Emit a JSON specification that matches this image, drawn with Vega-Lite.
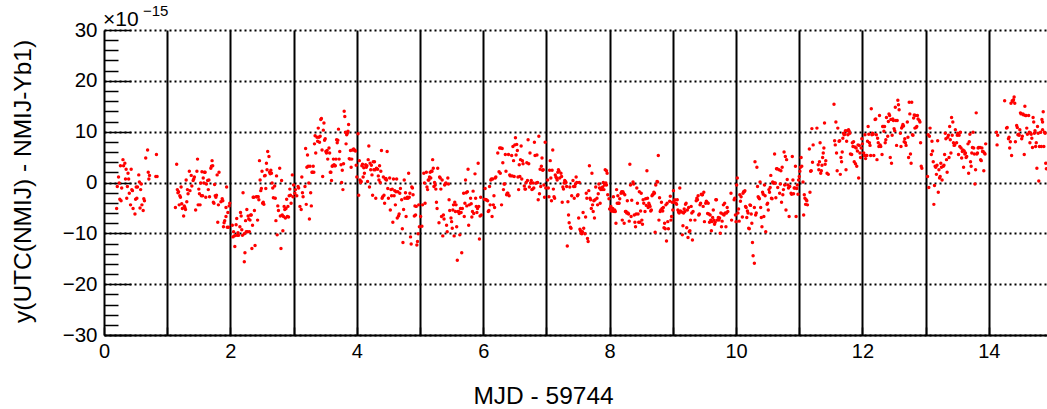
{
"$schema":"https://vega.github.io/schema/vega-lite/v6.json",
"width":943,"height":305,
"autosize":{"type":"none"},
"padding":{"left":104,"top":30,"right":0,"bottom":74},
"background":"white",
"config":{"view":{"stroke":null},"font":"Liberation Sans"},
"layer":[
{"data":{"values":[
{"x":0.20,"y":-5.1},{"x":0.21,"y":-0.8},{"x":0.23,"y":1.1},{"x":0.24,"y":-0.1},{"x":0.25,"y":-3.3},{"x":0.26,"y":3.3},{"x":0.27,"y":-3.6},{"x":0.28,"y":-1.1},{"x":0.30,"y":4.5},{"x":0.31,"y":3.3},{"x":0.33,"y":3.8},{"x":0.34,"y":0.7},{"x":0.35,"y":2.6},{"x":0.36,"y":-3.1},{"x":0.37,"y":-0.8},{"x":0.38,"y":1.8},{"x":0.39,"y":0.7},{"x":0.40,"y":-2.1},{"x":0.42,"y":-4.4},{"x":0.43,"y":2.6},{"x":0.44,"y":-1.4},{"x":0.45,"y":-1.6},{"x":0.46,"y":-5.1},{"x":0.49,"y":-6.2},{"x":0.50,"y":-3.3},{"x":0.51,"y":-0.9},{"x":0.52,"y":-3.1},{"x":0.53,"y":-0.9},{"x":0.55,"y":1.5},{"x":0.56,"y":0.1},{"x":0.57,"y":-5.0},{"x":0.58,"y":-1.4},{"x":0.59,"y":-0.3},{"x":0.60,"y":-4.4},{"x":0.62,"y":-5.5},{"x":0.63,"y":-3.2},{"x":0.64,"y":-3.6},{"x":0.66,"y":4.8},{"x":0.69,"y":6.4},{"x":0.70,"y":2.0},{"x":0.71,"y":0.7},{"x":0.72,"y":1.4},{"x":0.82,"y":1.2},{"x":0.83,"y":5.5},{"x":0.84,"y":1.2},
{"x":1.13,"y":-4.9},{"x":1.15,"y":3.6},{"x":1.16,"y":-1.4},{"x":1.17,"y":-2.0},{"x":1.18,"y":-1.8},{"x":1.19,"y":-4.4},{"x":1.20,"y":-2.6},{"x":1.21,"y":-2.9},{"x":1.22,"y":-0.9},{"x":1.23,"y":-4.2},{"x":1.24,"y":-5.1},{"x":1.26,"y":-6.6},{"x":1.27,"y":-4.6},{"x":1.28,"y":-4.9},{"x":1.29,"y":-5.3},{"x":1.30,"y":0.5},{"x":1.31,"y":-3.8},{"x":1.32,"y":-1.4},{"x":1.33,"y":-2.2},{"x":1.35,"y":2.2},{"x":1.36,"y":-1.6},{"x":1.38,"y":1.4},{"x":1.39,"y":-0.7},{"x":1.41,"y":0.4},{"x":1.42,"y":0.7},{"x":1.43,"y":1.1},{"x":1.45,"y":-5.4},{"x":1.47,"y":2.2},{"x":1.48,"y":4.6},{"x":1.49,"y":-4.4},{"x":1.50,"y":-1.3},{"x":1.51,"y":-2.2},{"x":1.52,"y":-4.4},{"x":1.53,"y":-0.1},{"x":1.54,"y":-2.6},{"x":1.55,"y":2.1},{"x":1.56,"y":-2.6},{"x":1.57,"y":0.9},{"x":1.58,"y":-0.1},{"x":1.59,"y":2.0},{"x":1.60,"y":2.0},{"x":1.61,"y":-2.9},{"x":1.62,"y":-0.3},{"x":1.64,"y":0.4},{"x":1.65,"y":-1.4},{"x":1.66,"y":0.5},{"x":1.67,"y":-2.8},{"x":1.69,"y":2.8},{"x":1.70,"y":3.2},{"x":1.71,"y":4.3},{"x":1.72,"y":3.3},{"x":1.73,"y":-3.9},{"x":1.74,"y":-4.1},{"x":1.75,"y":-0.4},{"x":1.76,"y":-2.6},{"x":1.77,"y":-2.9},{"x":1.78,"y":-2.5},{"x":1.79,"y":1.5},{"x":1.80,"y":-7.8},{"x":1.81,"y":-4.4},{"x":1.82,"y":2.0},{"x":1.85,"y":-3.8},{"x":1.87,"y":-3.2},{"x":1.88,"y":-3.6},{"x":1.89,"y":-8.7},{"x":1.90,"y":-7.9},{"x":1.91,"y":-7.5},{"x":1.93,"y":-4.9},{"x":1.93,"y":-6.7},{"x":1.94,"y":-0.9},{"x":1.95,"y":-8.8},{"x":1.96,"y":-5.9},{"x":1.97,"y":-8.8},{"x":1.98,"y":-4.6},{"x":1.99,"y":-4.1},
{"x":2.03,"y":-8.4},{"x":2.04,"y":-10.7},{"x":2.05,"y":-9.7},{"x":2.06,"y":-10.5},{"x":2.07,"y":-12.6},{"x":2.08,"y":-10.4},{"x":2.09,"y":-8.3},{"x":2.10,"y":-7.1},{"x":2.11,"y":-10.4},{"x":2.12,"y":-9.9},{"x":2.13,"y":-10.4},{"x":2.15,"y":-8.7},{"x":2.16,"y":-5.9},{"x":2.17,"y":-6.6},{"x":2.18,"y":-9.3},{"x":2.19,"y":-10.4},{"x":2.20,"y":-2.0},{"x":2.22,"y":-10.1},{"x":2.22,"y":-15.6},{"x":2.23,"y":-13.8},{"x":2.24,"y":-7.5},{"x":2.25,"y":-9.7},{"x":2.26,"y":-5.3},{"x":2.27,"y":-9.7},{"x":2.28,"y":-6.6},{"x":2.29,"y":-7.2},{"x":2.30,"y":-9.7},{"x":2.31,"y":-7.4},{"x":2.32,"y":-6.4},{"x":2.33,"y":-6.4},{"x":2.34,"y":-13.0},{"x":2.35,"y":-8.4},{"x":2.36,"y":-2.9},{"x":2.37,"y":-2.9},{"x":2.38,"y":-5.5},{"x":2.39,"y":-12.4},{"x":2.41,"y":-2.8},{"x":2.42,"y":-2.8},{"x":2.43,"y":-7.4},{"x":2.44,"y":-2.8},{"x":2.45,"y":-3.4},{"x":2.46,"y":4.3},{"x":2.47,"y":0.5},{"x":2.48,"y":-1.6},{"x":2.49,"y":-1.2},{"x":2.50,"y":2.2},{"x":2.51,"y":-4.1},{"x":2.52,"y":-3.9},{"x":2.53,"y":-4.3},{"x":2.54,"y":1.3},{"x":2.55,"y":1.4},{"x":2.56,"y":-1.2},{"x":2.57,"y":3.8},{"x":2.58,"y":2.5},{"x":2.59,"y":6.1},{"x":2.61,"y":5.1},{"x":2.62,"y":2.0},{"x":2.63,"y":1.7},{"x":2.64,"y":2.4},{"x":2.65,"y":1.8},{"x":2.66,"y":-0.1},{"x":2.67,"y":-1.1},{"x":2.68,"y":-3.0},
{"x":2.70,"y":-0.7},{"x":2.71,"y":-3.1},{"x":2.72,"y":-7.5},{"x":2.73,"y":1.3},{"x":2.74,"y":-10.3},{"x":2.75,"y":-4.6},{"x":2.76,"y":-5.5},{"x":2.78,"y":2.8},{"x":2.79,"y":-6.6},{"x":2.80,"y":-13.0},{"x":2.81,"y":0.4},{"x":2.82,"y":-6.4},{"x":2.83,"y":-9.5},{"x":2.84,"y":-6.7},{"x":2.85,"y":-4.7},{"x":2.86,"y":-5.3},{"x":2.87,"y":-7.0},{"x":2.88,"y":-5.1},{"x":2.89,"y":-3.3},{"x":2.90,"y":-6.7},{"x":2.91,"y":-4.7},{"x":2.92,"y":-6.8},{"x":2.93,"y":-2.6},{"x":2.94,"y":-1.3},{"x":2.95,"y":-2.5},{"x":2.96,"y":-4.1},{"x":2.98,"y":1.5},{"x":2.99,"y":-2.8},{"x":3.00,"y":-0.5},
{"x":3.02,"y":-2.1},{"x":3.03,"y":-1.4},{"x":3.05,"y":-2.6},{"x":3.07,"y":-0.8},{"x":3.08,"y":-1.1},{"x":3.10,"y":-4.7},{"x":3.12,"y":-5.3},{"x":3.13,"y":1.1},{"x":3.14,"y":-2.0},{"x":3.15,"y":-2.8},{"x":3.18,"y":-0.8},{"x":3.19,"y":6.7},{"x":3.20,"y":-4.3},{"x":3.21,"y":3.0},{"x":3.22,"y":5.4},{"x":3.23,"y":3.2},{"x":3.24,"y":-0.1},{"x":3.25,"y":-7.2},{"x":3.26,"y":3.2},{"x":3.27,"y":-2.0},{"x":3.28,"y":-4.6},{"x":3.29,"y":2.0},{"x":3.30,"y":2.0},{"x":3.31,"y":3.2},{"x":3.32,"y":2.0},{"x":3.33,"y":7.6},{"x":3.34,"y":9.2},{"x":3.35,"y":5.8},{"x":3.37,"y":8.9},{"x":3.38,"y":8.1},{"x":3.39,"y":10.7},{"x":3.40,"y":8.9},{"x":3.41,"y":7.9},{"x":3.42,"y":9.1},{"x":3.43,"y":12.4},{"x":3.44,"y":12.6},{"x":3.45,"y":6.4},{"x":3.46,"y":1.2},{"x":3.47,"y":10.3},{"x":3.48,"y":11.7},{"x":3.49,"y":8.3},{"x":3.50,"y":8.6},{"x":3.51,"y":6.1},{"x":3.52,"y":5.8},{"x":3.53,"y":6.3},{"x":3.54,"y":4.6},{"x":3.56,"y":6.8},{"x":3.57,"y":5.8},{"x":3.58,"y":2.0},{"x":3.59,"y":2.0},{"x":3.60,"y":0.4},{"x":3.61,"y":3.2},{"x":3.62,"y":3.3},{"x":3.63,"y":4.6},{"x":3.64,"y":3.5},{"x":3.65,"y":3.3},{"x":3.66,"y":3.3},{"x":3.67,"y":4.6},{"x":3.68,"y":8.4},{"x":3.69,"y":7.8},{"x":3.70,"y":8.3},{"x":3.71,"y":10.5},{"x":3.72,"y":4.6},{"x":3.73,"y":6.1},{"x":3.75,"y":3.5},{"x":3.76,"y":0.0},{"x":3.77,"y":2.4},{"x":3.78,"y":-1.4},{"x":3.79,"y":3.7},{"x":3.80,"y":14.0},{"x":3.81,"y":13.0},{"x":3.82,"y":9.9},{"x":3.83,"y":7.6},{"x":3.84,"y":9.4},{"x":3.85,"y":9.7},{"x":3.86,"y":10.1},{"x":3.87,"y":11.4},{"x":3.88,"y":4.7},{"x":3.89,"y":4.6},{"x":3.90,"y":6.3},{"x":3.91,"y":3.0},{"x":3.92,"y":4.6},{"x":3.93,"y":6.4},{"x":3.95,"y":6.6},{"x":3.96,"y":6.4},{"x":3.97,"y":6.3},{"x":3.98,"y":6.2},{"x":3.99,"y":3.4},{"x":4.00,"y":1.1},
{"x":4.02,"y":9.6},{"x":4.03,"y":-2.5},{"x":4.04,"y":4.3},{"x":4.05,"y":0.5},{"x":4.06,"y":0.0},{"x":4.07,"y":0.2},{"x":4.08,"y":3.3},{"x":4.09,"y":3.6},{"x":4.10,"y":1.1},{"x":4.11,"y":2.9},{"x":4.12,"y":1.8},{"x":4.14,"y":3.5},{"x":4.15,"y":3.0},{"x":4.16,"y":3.3},{"x":4.17,"y":0.2},{"x":4.18,"y":4.5},{"x":4.19,"y":7.2},{"x":4.20,"y":-0.9},{"x":4.21,"y":3.8},{"x":4.22,"y":2.5},{"x":4.23,"y":3.4},{"x":4.24,"y":1.5},{"x":4.25,"y":-2.5},{"x":4.26,"y":4.1},{"x":4.27,"y":2.5},{"x":4.28,"y":4.1},{"x":4.29,"y":2.5},{"x":4.30,"y":-3.1},{"x":4.31,"y":2.8},{"x":4.33,"y":2.6},{"x":4.34,"y":1.3},{"x":4.35,"y":0.5},{"x":4.36,"y":3.3},{"x":4.37,"y":0.0},{"x":4.38,"y":2.2},{"x":4.39,"y":6.3},{"x":4.40,"y":-3.1},{"x":4.41,"y":-2.8},{"x":4.42,"y":1.1},{"x":4.43,"y":-2.5},{"x":4.44,"y":-4.1},{"x":4.45,"y":0.7},{"x":4.46,"y":0.8},{"x":4.47,"y":0.5},{"x":4.48,"y":6.1},{"x":4.49,"y":-1.2},{"x":4.50,"y":-3.1},{"x":4.52,"y":0.9},{"x":4.53,"y":-5.4},{"x":4.54,"y":-1.4},{"x":4.55,"y":-2.6},{"x":4.56,"y":-1.3},{"x":4.57,"y":-7.8},{"x":4.58,"y":0.7},{"x":4.59,"y":-2.6},{"x":4.60,"y":-1.6},{"x":4.61,"y":-4.4},{"x":4.62,"y":-1.8},{"x":4.63,"y":0.7},{"x":4.64,"y":-7.0},{"x":4.65,"y":-1.8},{"x":4.66,"y":-6.6},{"x":4.67,"y":-6.2},{"x":4.68,"y":-2.1},{"x":4.69,"y":-1.2},{"x":4.71,"y":-3.4},{"x":4.72,"y":-9.1},{"x":4.73,"y":-11.8},{"x":4.74,"y":-5.3},{"x":4.75,"y":0.5},{"x":4.76,"y":-3.1},{"x":4.77,"y":-2.0},{"x":4.78,"y":-6.7},{"x":4.79,"y":-3.1},{"x":4.80,"y":-2.9},{"x":4.81,"y":-3.1},{"x":4.82,"y":1.8},{"x":4.83,"y":-2.9},{"x":4.84,"y":-2.1},{"x":4.85,"y":-10.7},{"x":4.86,"y":-12.1},{"x":4.87,"y":-0.9},{"x":4.88,"y":-1.1},{"x":4.89,"y":-2.4},{"x":4.91,"y":-6.6},{"x":4.92,"y":-4.6},{"x":4.93,"y":-6.4},{"x":4.94,"y":-4.7},{"x":4.95,"y":-12.3},{"x":4.96,"y":-11.6},{"x":4.97,"y":-10.1},{"x":4.98,"y":-4.4},{"x":4.99,"y":-8.7},
{"x":5.01,"y":-6.7},{"x":5.03,"y":-8.6},{"x":5.04,"y":-4.4},{"x":5.06,"y":1.8},{"x":5.07,"y":-0.1},{"x":5.08,"y":-4.1},{"x":5.10,"y":2.0},{"x":5.11,"y":-0.9},{"x":5.12,"y":-1.4},{"x":5.13,"y":0.5},{"x":5.14,"y":0.5},{"x":5.15,"y":1.1},{"x":5.16,"y":2.0},{"x":5.17,"y":0.9},{"x":5.18,"y":2.2},{"x":5.19,"y":2.2},{"x":5.20,"y":4.5},{"x":5.21,"y":2.8},{"x":5.22,"y":-0.8},{"x":5.23,"y":0.0},{"x":5.24,"y":-0.5},
{"x":5.25,"y":-1.3},{"x":5.26,"y":-3.9},{"x":5.27,"y":-5.1},{"x":5.28,"y":2.8},{"x":5.30,"y":-7.9},{"x":5.31,"y":1.1},{"x":5.32,"y":0.9},{"x":5.33,"y":-1.3},{"x":5.34,"y":-6.7},{"x":5.35,"y":0.5},{"x":5.36,"y":-10.5},{"x":5.37,"y":-6.4},{"x":5.38,"y":-7.2},{"x":5.39,"y":-0.5},{"x":5.40,"y":-0.3},{"x":5.41,"y":-0.1},{"x":5.42,"y":-8.4},{"x":5.43,"y":-9.7},{"x":5.44,"y":0.9},{"x":5.45,"y":-0.3},{"x":5.46,"y":-3.4},{"x":5.47,"y":-5.5},{"x":5.49,"y":-7.0},{"x":5.50,"y":-7.7},{"x":5.51,"y":-9.0},{"x":5.52,"y":-5.4},{"x":5.53,"y":-4.4},{"x":5.54,"y":-10.5},{"x":5.55,"y":-3.9},{"x":5.56,"y":-5.7},{"x":5.57,"y":-4.4},{"x":5.58,"y":-8.7},{"x":5.59,"y":-15.3},{"x":5.60,"y":-5.7},{"x":5.61,"y":-5.7},{"x":5.62,"y":-6.1},{"x":5.63,"y":-10.3},{"x":5.64,"y":-5.1},{"x":5.65,"y":-5.9},{"x":5.66,"y":-13.8},{"x":5.67,"y":-5.1},{"x":5.69,"y":-2.1},{"x":5.70,"y":-6.7},{"x":5.71,"y":-4.1},{"x":5.72,"y":0.5},{"x":5.73,"y":-2.0},{"x":5.74,"y":-4.6},{"x":5.75,"y":-1.8},{"x":5.76,"y":2.6},{"x":5.77,"y":-8.4},{"x":5.78,"y":-4.4},{"x":5.80,"y":-3.1},{"x":5.81,"y":-4.2},{"x":5.82,"y":-6.8},{"x":5.83,"y":-5.7},{"x":5.84,"y":-1.7},{"x":5.85,"y":-6.1},{"x":5.87,"y":1.7},{"x":5.88,"y":-3.1},{"x":5.89,"y":-4.7},{"x":5.90,"y":-5.9},{"x":5.91,"y":-5.1},{"x":5.92,"y":3.8},{"x":5.93,"y":-4.7},{"x":5.94,"y":-11.1},{"x":5.95,"y":-6.6},{"x":5.96,"y":-2.9},{"x":5.97,"y":-6.4},
{"x":6.02,"y":-3.3},{"x":6.03,"y":-1.2},{"x":6.04,"y":-3.4},{"x":6.05,"y":-3.4},{"x":6.07,"y":-3.6},{"x":6.08,"y":-5.7},{"x":6.09,"y":-5.5},{"x":6.10,"y":-0.8},{"x":6.11,"y":-4.4},{"x":6.12,"y":0.5},{"x":6.13,"y":0.7},{"x":6.14,"y":-6.7},{"x":6.15,"y":0.7},{"x":6.16,"y":-4.4},{"x":6.17,"y":-2.6},{"x":6.18,"y":-4.9},{"x":6.19,"y":0.9},{"x":6.20,"y":1.1},{"x":6.23,"y":5.8},{"x":6.25,"y":2.1},{"x":6.26,"y":6.8},{"x":6.27,"y":1.8},{"x":6.28,"y":6.8},{"x":6.29,"y":-4.4},{"x":6.30,"y":6.7},{"x":6.31,"y":3.9},{"x":6.32,"y":-1.4},{"x":6.33,"y":-0.3},{"x":6.34,"y":-0.3},{"x":6.35,"y":5.5},{"x":6.36,"y":2.2},{"x":6.37,"y":-2.4},{"x":6.38,"y":-2.1},{"x":6.39,"y":-2.1},{"x":6.40,"y":5.5},{"x":6.41,"y":-2.6},{"x":6.42,"y":1.5},{"x":6.43,"y":1.3},{"x":6.45,"y":5.3},{"x":6.46,"y":1.3},{"x":6.47,"y":7.1},{"x":6.48,"y":4.3},{"x":6.49,"y":1.2},{"x":6.50,"y":7.4},{"x":6.51,"y":8.8},{"x":6.52,"y":5.4},{"x":6.53,"y":7.5},{"x":6.54,"y":6.3},{"x":6.55,"y":1.1},{"x":6.56,"y":-1.4},{"x":6.57,"y":3.5},{"x":6.58,"y":1.2},{"x":6.59,"y":4.5},{"x":6.60,"y":7.2},{"x":6.61,"y":0.7},{"x":6.62,"y":4.3},{"x":6.63,"y":3.7},{"x":6.65,"y":-0.7},{"x":6.66,"y":-1.3},{"x":6.67,"y":-1.3},{"x":6.68,"y":0.0},{"x":6.69,"y":3.9},{"x":6.70,"y":0.4},{"x":6.71,"y":8.4},{"x":6.72,"y":3.7},{"x":6.73,"y":-0.9},{"x":6.74,"y":5.8},{"x":6.75,"y":-0.1},{"x":6.76,"y":0.4},{"x":6.77,"y":-1.4},{"x":6.78,"y":-1.3},{"x":6.79,"y":-0.1},{"x":6.80,"y":-1.1},{"x":6.81,"y":7.9},{"x":6.82,"y":5.3},{"x":6.84,"y":-0.1},{"x":6.85,"y":5.4},{"x":6.86,"y":0.0},{"x":6.87,"y":-3.4},{"x":6.88,"y":9.1},{"x":6.89,"y":-2.2},{"x":6.90,"y":2.6},{"x":6.91,"y":-0.8},{"x":6.92,"y":3.2},{"x":6.93,"y":4.8},{"x":6.94,"y":2.4},{"x":6.95,"y":2.5},{"x":6.96,"y":-0.5},{"x":6.97,"y":-2.9},{"x":6.98,"y":7.9},{"x":6.99,"y":-1.1},
{"x":7.02,"y":0.5},{"x":7.03,"y":-1.1},{"x":7.04,"y":-2.8},{"x":7.05,"y":2.4},{"x":7.06,"y":4.3},{"x":7.07,"y":0.9},{"x":7.08,"y":-3.6},{"x":7.09,"y":2.4},{"x":7.10,"y":6.4},{"x":7.11,"y":-1.3},{"x":7.12,"y":-2.8},{"x":7.13,"y":-3.1},{"x":7.14,"y":1.5},{"x":7.15,"y":1.1},{"x":7.16,"y":0.9},{"x":7.17,"y":0.5},{"x":7.18,"y":2.0},{"x":7.19,"y":2.5},{"x":7.20,"y":2.2},{"x":7.21,"y":0.9},{"x":7.23,"y":1.8},{"x":7.24,"y":1.2},{"x":7.25,"y":-3.9},{"x":7.26,"y":-0.9},{"x":7.27,"y":-1.3},{"x":7.28,"y":-0.1},{"x":7.29,"y":0.4},{"x":7.30,"y":0.2},{"x":7.31,"y":0.0},{"x":7.32,"y":-0.8},{"x":7.33,"y":-12.5},{"x":7.34,"y":-3.8},{"x":7.35,"y":-6.4},{"x":7.36,"y":-7.9},{"x":7.37,"y":-0.9},{"x":7.38,"y":-8.8},{"x":7.39,"y":-9.0},{"x":7.40,"y":-2.6},{"x":7.42,"y":0.4},{"x":7.43,"y":-0.8},{"x":7.44,"y":-3.1},{"x":7.45,"y":-0.8},{"x":7.46,"y":-0.3},{"x":7.47,"y":1.1},{"x":7.48,"y":0.0},{"x":7.49,"y":-2.6},{"x":7.50,"y":-2.4},{"x":7.51,"y":-7.0},{"x":7.52,"y":0.0},{"x":7.53,"y":-9.2},{"x":7.54,"y":-9.5},{"x":7.55,"y":-9.9},{"x":7.56,"y":-10.1},{"x":7.57,"y":-9.7},{"x":7.58,"y":-5.9},{"x":7.59,"y":-9.0},{"x":7.61,"y":-10.1},{"x":7.62,"y":-6.8},{"x":7.63,"y":-2.1},{"x":7.64,"y":-3.1},{"x":7.65,"y":-11.0},{"x":7.66,"y":-11.6},{"x":7.67,"y":-1.6},{"x":7.68,"y":3.3},{"x":7.69,"y":-3.1},{"x":7.70,"y":-3.4},{"x":7.71,"y":-5.1},{"x":7.72,"y":1.8},{"x":7.73,"y":-4.4},{"x":7.74,"y":-5.7},{"x":7.75,"y":-3.6},{"x":7.76,"y":-7.0},{"x":7.77,"y":-3.4},{"x":7.78,"y":-0.9},{"x":7.80,"y":-3.1},{"x":7.81,"y":-4.4},{"x":7.82,"y":-2.2},{"x":7.83,"y":-0.3},{"x":7.84,"y":-1.1},{"x":7.85,"y":-4.1},{"x":7.86,"y":-1.4},{"x":7.87,"y":-1.1},{"x":7.88,"y":-1.4},{"x":7.89,"y":-0.9},{"x":7.90,"y":0.0},{"x":7.91,"y":-1.4},{"x":7.92,"y":-0.5},{"x":7.93,"y":2.5},
{"x":7.94,"y":-0.1},{"x":7.95,"y":2.3},{"x":7.95,"y":-0.5},{"x":7.96,"y":1.8},{"x":7.97,"y":-2.4},{"x":7.99,"y":-3.2},{"x":8.00,"y":-5.2},{"x":8.02,"y":-4.7},{"x":8.03,"y":-5.6},{"x":8.04,"y":-5.6},{"x":8.05,"y":-5.1},{"x":8.06,"y":-2.8},{"x":8.07,"y":-5.7},{"x":8.08,"y":-5.4},{"x":8.09,"y":-5.7},{"x":8.10,"y":-8.0},{"x":8.11,"y":-1.4},{"x":8.12,"y":-4.1},{"x":8.13,"y":-2.6},{"x":8.14,"y":-4.1},{"x":8.15,"y":-4.1},{"x":8.16,"y":-3.2},{"x":8.18,"y":-2.1},{"x":8.19,"y":-1.8},{"x":8.20,"y":-7.4},{"x":8.21,"y":-1.8},{"x":8.22,"y":-2.1},{"x":8.23,"y":-8.0},{"x":8.24,"y":-2.4},{"x":8.25,"y":-5.7},{"x":8.26,"y":-5.7},{"x":8.27,"y":-6.0},{"x":8.28,"y":-3.6},{"x":8.29,"y":-6.0},{"x":8.30,"y":-6.2},{"x":8.31,"y":-7.6},{"x":8.32,"y":3.6},{"x":8.33,"y":-0.5},{"x":8.34,"y":-6.7},{"x":8.35,"y":-3.5},{"x":8.37,"y":0.1},{"x":8.38,"y":-0.3},{"x":8.39,"y":-6.4},{"x":8.40,"y":-7.8},{"x":8.41,"y":-8.7},{"x":8.42,"y":-6.2},{"x":8.43,"y":-1.1},{"x":8.44,"y":-4.1},{"x":8.45,"y":-6.2},{"x":8.46,"y":-7.8},{"x":8.47,"y":-1.8},{"x":8.48,"y":-7.8},{"x":8.49,"y":-5.6},{"x":8.50,"y":-2.1},{"x":8.51,"y":-7.4},{"x":8.52,"y":-8.2},{"x":8.53,"y":-3.4},{"x":8.54,"y":-4.1},{"x":8.56,"y":-5.7},{"x":8.57,"y":-3.2},{"x":8.58,"y":-4.5},{"x":8.59,"y":2.3},{"x":8.60,"y":-3.1},{"x":8.61,"y":-4.9},{"x":8.62,"y":-4.1},{"x":8.63,"y":-4.4},{"x":8.64,"y":-4.7},{"x":8.65,"y":-5.6},{"x":8.66,"y":-5.4},{"x":8.67,"y":-2.6},{"x":8.68,"y":-2.4},{"x":8.69,"y":-2.3},{"x":8.70,"y":-1.9},{"x":8.71,"y":-2.1},{"x":8.72,"y":-9.8},{"x":8.73,"y":-0.5},{"x":8.75,"y":0.2},{"x":8.76,"y":0.1},{"x":8.77,"y":5.3},{"x":8.78,"y":-7.4},{"x":8.79,"y":-3.0},{"x":8.80,"y":-5.7},{"x":8.81,"y":-5.4},{"x":8.82,"y":-3.9},{"x":8.83,"y":-5.1},{"x":8.84,"y":-5.6},{"x":8.85,"y":-4.9},{"x":8.86,"y":-8.9},{"x":8.87,"y":-8.0},{"x":8.88,"y":-9.1},{"x":8.89,"y":-4.4},{"x":8.90,"y":-11.5},{"x":8.91,"y":-4.1},{"x":8.92,"y":-7.7},{"x":8.93,"y":-9.1},{"x":8.95,"y":-3.7},{"x":8.96,"y":-2.7},{"x":8.97,"y":-7.4},{"x":8.98,"y":-6.7},{"x":8.99,"y":-3.9},
{"x":9.00,"y":-5.4},{"x":9.01,"y":-1.6},{"x":9.02,"y":-3.9},{"x":9.03,"y":-3.4},{"x":9.05,"y":-4.1},{"x":9.06,"y":-4.3},{"x":9.07,"y":-3.4},{"x":9.08,"y":-5.4},{"x":9.09,"y":-5.8},{"x":9.10,"y":-6.0},{"x":9.11,"y":-1.1},{"x":9.12,"y":-5.6},{"x":9.14,"y":-5.8},{"x":9.15,"y":-10.3},{"x":9.16,"y":-8.5},{"x":9.17,"y":-6.0},{"x":9.18,"y":-5.2},{"x":9.19,"y":-5.7},{"x":9.20,"y":-4.3},{"x":9.21,"y":-4.1},{"x":9.22,"y":-8.9},{"x":9.23,"y":-5.4},{"x":9.24,"y":-10.8},{"x":9.25,"y":-4.9},{"x":9.26,"y":-9.7},{"x":9.27,"y":-9.5},{"x":9.28,"y":-7.4},{"x":9.29,"y":-4.7},{"x":9.30,"y":-6.0},{"x":9.31,"y":-11.3},{"x":9.32,"y":-5.7},{"x":9.35,"y":-7.4},{"x":9.37,"y":-3.6},{"x":9.38,"y":-3.1},{"x":9.39,"y":-3.4},{"x":9.40,"y":-2.6},{"x":9.41,"y":-6.4},{"x":9.42,"y":-6.2},{"x":9.43,"y":-4.4},{"x":9.44,"y":-4.1},{"x":9.45,"y":-2.3},{"x":9.46,"y":-2.4},{"x":9.47,"y":-2.4},{"x":9.48,"y":-4.7},{"x":9.49,"y":-1.9},{"x":9.50,"y":-7.7},{"x":9.52,"y":-4.1},{"x":9.53,"y":-3.7},{"x":9.54,"y":-3.9},{"x":9.55,"y":-6.1},{"x":9.56,"y":-4.1},{"x":9.57,"y":-6.2},{"x":9.58,"y":-7.8},{"x":9.59,"y":-6.4},{"x":9.60,"y":-7.4},{"x":9.61,"y":-9.5},{"x":9.62,"y":-7.7},{"x":9.63,"y":-6.9},{"x":9.64,"y":-5.4},{"x":9.65,"y":-7.4},{"x":9.66,"y":-8.2},{"x":9.67,"y":-7.8},{"x":9.68,"y":-3.4},{"x":9.69,"y":-3.4},{"x":9.70,"y":-7.4},{"x":9.72,"y":-6.9},{"x":9.73,"y":-7.4},{"x":9.74,"y":-7.0},{"x":9.75,"y":-10.0},{"x":9.76,"y":-6.0},{"x":9.77,"y":-8.7},{"x":9.78,"y":-7.6},{"x":9.79,"y":-6.2},{"x":9.80,"y":-4.4},{"x":9.81,"y":-6.4},{"x":9.82,"y":-4.1},{"x":9.83,"y":-6.0},{"x":9.84,"y":-8.7},{"x":9.85,"y":-6.0},{"x":9.86,"y":-4.9},{"x":9.87,"y":-5.7},{"x":9.92,"y":-2.1},{"x":9.93,"y":-7.4},{"x":9.97,"y":-3.4},{"x":9.98,"y":-3.1},{"x":9.99,"y":-6.4},
{"x":10.00,"y":-7.7},{"x":10.01,"y":-0.5},{"x":10.02,"y":0.9},{"x":10.03,"y":-6.0},{"x":10.04,"y":-5.2},{"x":10.05,"y":-7.6},{"x":10.06,"y":-2.4},{"x":10.07,"y":-3.7},{"x":10.08,"y":-2.8},{"x":10.10,"y":-6.8},{"x":10.11,"y":-2.1},{"x":10.12,"y":-1.8},{"x":10.13,"y":-1.8},{"x":10.14,"y":-1.6},{"x":10.15,"y":-4.7},{"x":10.16,"y":-4.9},{"x":10.17,"y":-6.9},{"x":10.18,"y":-5.6},{"x":10.19,"y":-6.0},{"x":10.20,"y":-9.0},{"x":10.21,"y":-9.1},{"x":10.22,"y":-4.4},{"x":10.23,"y":-4.5},{"x":10.24,"y":-6.2},{"x":10.25,"y":-8.0},{"x":10.26,"y":-11.8},{"x":10.27,"y":-14.4},{"x":10.29,"y":-15.9},{"x":10.29,"y":-4.9},{"x":10.30,"y":4.1},{"x":10.31,"y":-6.4},{"x":10.32,"y":-6.0},{"x":10.33,"y":3.0},{"x":10.34,"y":-0.8},{"x":10.35,"y":-2.8},{"x":10.36,"y":-3.0},{"x":10.37,"y":-3.2},{"x":10.38,"y":0.1},{"x":10.39,"y":-4.9},{"x":10.40,"y":-6.9},{"x":10.41,"y":-8.7},{"x":10.42,"y":-1.9},{"x":10.43,"y":-2.3},{"x":10.44,"y":-6.7},{"x":10.45,"y":-0.5},{"x":10.46,"y":-2.6},{"x":10.47,"y":-9.7},{"x":10.49,"y":-4.3},{"x":10.50,"y":-4.1},{"x":10.51,"y":-5.4},{"x":10.52,"y":-1.4},{"x":10.53,"y":-1.9},{"x":10.54,"y":-1.0},{"x":10.55,"y":1.4},{"x":10.56,"y":-3.1},{"x":10.57,"y":-3.2},{"x":10.58,"y":0.1},{"x":10.59,"y":-0.1},{"x":10.60,"y":-0.1},{"x":10.61,"y":5.6},{"x":10.62,"y":-0.1},{"x":10.63,"y":-3.0},{"x":10.64,"y":2.7},{"x":10.65,"y":2.7},{"x":10.66,"y":-1.0},{"x":10.68,"y":2.5},{"x":10.69,"y":-2.1},{"x":10.70,"y":-0.3},{"x":10.71,"y":2.3},{"x":10.72,"y":-3.9},{"x":10.73,"y":3.0},{"x":10.74,"y":-2.4},{"x":10.75,"y":-1.4},{"x":10.76,"y":6.0},{"x":10.77,"y":-0.5},{"x":10.78,"y":5.1},{"x":10.79,"y":-5.4},{"x":10.80,"y":4.5},{"x":10.81,"y":0.6},{"x":10.82,"y":-0.5},{"x":10.83,"y":-1.1},{"x":10.84,"y":-6.7},{"x":10.85,"y":-0.8},{"x":10.87,"y":-2.1},{"x":10.88,"y":-2.3},{"x":10.89,"y":5.1},{"x":10.90,"y":0.5},{"x":10.91,"y":-2.2},{"x":10.92,"y":-1.1},{"x":10.93,"y":-1.1},{"x":10.94,"y":3.2},{"x":10.95,"y":-6.7},{"x":10.96,"y":-1.2},{"x":10.97,"y":-0.5},{"x":10.98,"y":-2.3},{"x":10.99,"y":0.5},
{"x":11.00,"y":1.2},{"x":11.01,"y":2.2},{"x":11.02,"y":3.0},{"x":11.03,"y":4.9},{"x":11.04,"y":3.2},{"x":11.06,"y":0.1},{"x":11.07,"y":-6.4},{"x":11.08,"y":-2.4},{"x":11.09,"y":-3.1},{"x":11.10,"y":-4.3},{"x":11.11,"y":-3.4},{"x":11.12,"y":-3.6},{"x":11.13,"y":-4.4},{"x":11.16,"y":6.6},{"x":11.17,"y":-1.9},{"x":11.18,"y":2.2},{"x":11.19,"y":2.3},{"x":11.20,"y":10.6},{"x":11.21,"y":4.0},{"x":11.22,"y":7.4},{"x":11.28,"y":10.7},{"x":11.30,"y":3.5},{"x":11.31,"y":2.5},{"x":11.32,"y":4.1},{"x":11.33,"y":7.8},{"x":11.34,"y":1.8},{"x":11.35,"y":2.3},{"x":11.36,"y":3.4},{"x":11.37,"y":4.9},{"x":11.38,"y":5.8},{"x":11.39,"y":6.8},{"x":11.40,"y":11.7},{"x":11.41,"y":3.6},{"x":11.42,"y":4.3},{"x":11.44,"y":1.8},{"x":11.46,"y":1.6},{"x":11.55,"y":15.4},{"x":11.56,"y":8.2},{"x":11.57,"y":7.4},{"x":11.58,"y":11.9},{"x":11.59,"y":5.8},{"x":11.60,"y":2.3},{"x":11.61,"y":10.7},{"x":11.63,"y":8.1},{"x":11.64,"y":8.2},{"x":11.65,"y":1.6},{"x":11.66,"y":4.9},{"x":11.67,"y":4.1},{"x":11.68,"y":6.0},{"x":11.69,"y":8.7},{"x":11.70,"y":9.7},{"x":11.71,"y":9.4},{"x":11.72,"y":9.5},{"x":11.73,"y":10.2},{"x":11.74,"y":2.5},{"x":11.75,"y":8.1},{"x":11.76,"y":10.2},{"x":11.77,"y":9.4},{"x":11.78,"y":10.4},{"x":11.79,"y":10.1},{"x":11.80,"y":9.7},{"x":11.81,"y":5.6},{"x":11.83,"y":5.5},{"x":11.84,"y":7.8},{"x":11.85,"y":7.1},{"x":11.86,"y":8.0},{"x":11.87,"y":4.1},{"x":11.88,"y":7.0},{"x":11.89,"y":3.7},{"x":11.90,"y":6.8},{"x":11.91,"y":3.2},{"x":11.92,"y":6.2},{"x":11.93,"y":7.4},{"x":11.94,"y":0.9},{"x":11.95,"y":7.3},{"x":11.96,"y":5.8},{"x":11.97,"y":4.9},{"x":11.98,"y":6.8},{"x":11.99,"y":8.6},
{"x":12.00,"y":7.6},{"x":12.02,"y":5.8},{"x":12.03,"y":5.3},{"x":12.04,"y":9.4},{"x":12.05,"y":4.7},{"x":12.06,"y":5.3},{"x":12.07,"y":5.3},{"x":12.08,"y":8.1},{"x":12.09,"y":11.0},{"x":12.10,"y":9.5},{"x":12.11,"y":7.8},{"x":12.12,"y":7.3},{"x":12.13,"y":5.3},{"x":12.14,"y":14.5},{"x":12.15,"y":9.4},{"x":12.16,"y":9.7},{"x":12.17,"y":9.5},{"x":12.18,"y":5.3},{"x":12.20,"y":12.4},{"x":12.21,"y":12.5},{"x":12.22,"y":9.4},{"x":12.23,"y":4.5},{"x":12.24,"y":8.7},{"x":12.25,"y":7.8},{"x":12.26,"y":7.1},{"x":12.27,"y":13.2},{"x":12.28,"y":7.4},{"x":12.29,"y":7.1},{"x":12.31,"y":5.5},{"x":12.32,"y":11.0},{"x":12.33,"y":11.0},{"x":12.34,"y":10.1},{"x":12.35,"y":11.0},{"x":12.36,"y":7.8},{"x":12.37,"y":8.4},{"x":12.38,"y":12.8},{"x":12.40,"y":9.1},{"x":12.41,"y":12.0},{"x":12.42,"y":13.5},{"x":12.43,"y":13.2},{"x":12.44,"y":4.9},{"x":12.45,"y":12.4},{"x":12.46,"y":3.8},{"x":12.47,"y":9.3},{"x":12.48,"y":12.5},{"x":12.49,"y":12.2},{"x":12.50,"y":10.6},{"x":12.51,"y":10.2},{"x":12.52,"y":14.8},{"x":12.53,"y":12.2},{"x":12.54,"y":7.3},{"x":12.55,"y":12.2},{"x":12.56,"y":16.2},{"x":12.57,"y":15.3},{"x":12.58,"y":14.3},
{"x":12.60,"y":9.7},{"x":12.61,"y":7.1},{"x":12.62,"y":10.7},{"x":12.63,"y":11.0},{"x":12.64,"y":11.4},{"x":12.65,"y":11.1},{"x":12.66,"y":8.0},{"x":12.67,"y":8.6},{"x":12.68,"y":7.8},{"x":12.69,"y":7.3},{"x":12.71,"y":11.9},{"x":12.72,"y":8.9},{"x":12.73,"y":4.9},{"x":12.74,"y":15.8},{"x":12.75,"y":13.5},{"x":12.76,"y":5.6},{"x":12.77,"y":3.8},{"x":12.78,"y":15.8},{"x":12.79,"y":9.4},{"x":12.80,"y":9.3},{"x":12.81,"y":12.7},{"x":12.82,"y":13.3},{"x":12.83,"y":10.7},{"x":12.84,"y":13.2},{"x":12.85,"y":10.8},{"x":12.86,"y":11.0},{"x":12.87,"y":13.2},{"x":12.88,"y":12.5},{"x":12.90,"y":12.2},{"x":12.91,"y":11.9},{"x":12.92,"y":7.8},{"x":12.93,"y":3.2},{"x":12.94,"y":2.8},
{"x":13.03,"y":1.2},{"x":13.04,"y":9.4},{"x":13.05,"y":-1.0},{"x":13.06,"y":9.1},{"x":13.07,"y":10.7},{"x":13.09,"y":5.5},{"x":13.10,"y":8.1},{"x":13.11,"y":6.2},{"x":13.12,"y":4.1},{"x":13.13,"y":-4.3},{"x":13.14,"y":-0.6},{"x":13.15,"y":3.2},{"x":13.16,"y":3.0},{"x":13.17,"y":1.6},{"x":13.18,"y":3.4},{"x":13.19,"y":8.2},{"x":13.20,"y":-1.9},{"x":13.21,"y":2.5},{"x":13.22,"y":0.9},{"x":13.23,"y":1.2},{"x":13.24,"y":3.8},{"x":13.25,"y":3.0},{"x":13.26,"y":0.5},{"x":13.28,"y":3.2},{"x":13.29,"y":3.4},{"x":13.30,"y":5.5},{"x":13.31,"y":9.7},{"x":13.32,"y":8.6},{"x":13.33,"y":4.5},{"x":13.34,"y":2.0},{"x":13.35,"y":8.9},{"x":13.36,"y":9.3},{"x":13.37,"y":4.9},{"x":13.38,"y":11.0},{"x":13.39,"y":8.4},{"x":13.40,"y":5.8},{"x":13.41,"y":12.8},{"x":13.42,"y":9.3},{"x":13.43,"y":11.9},{"x":13.44,"y":7.8},{"x":13.45,"y":7.3},{"x":13.46,"y":7.4},{"x":13.47,"y":10.4},{"x":13.49,"y":7.8},{"x":13.50,"y":9.3},{"x":13.51,"y":9.7},{"x":13.52,"y":5.5},{"x":13.53,"y":9.3},{"x":13.54,"y":7.1},{"x":13.55,"y":9.9},{"x":13.56,"y":6.8},{"x":13.57,"y":4.8},{"x":13.58,"y":6.1},{"x":13.59,"y":6.4},{"x":13.60,"y":3.0},{"x":13.61,"y":6.2},{"x":13.62,"y":5.6},{"x":13.63,"y":5.8},{"x":13.64,"y":4.9},{"x":13.65,"y":5.1},{"x":13.67,"y":7.6},{"x":13.68,"y":1.8},{"x":13.69,"y":8.0},{"x":13.70,"y":9.5},{"x":13.71,"y":4.1},{"x":13.72,"y":3.2},{"x":13.73,"y":5.8},{"x":13.74,"y":6.9},{"x":13.75,"y":9.9},{"x":13.76,"y":6.8},{"x":13.77,"y":5.6},{"x":13.78,"y":-0.3},{"x":13.79,"y":2.5},{"x":13.80,"y":13.7},{"x":13.81,"y":5.6},{"x":13.82,"y":5.8},{"x":13.83,"y":6.8},{"x":13.84,"y":6.9},{"x":13.86,"y":6.9},{"x":13.87,"y":4.5},{"x":13.88,"y":4.3},{"x":13.89,"y":6.8},{"x":13.90,"y":6.1},{"x":13.91,"y":6.1},{"x":13.92,"y":2.3},{"x":13.93,"y":5.8},{"x":13.94,"y":5.6},{"x":13.95,"y":7.6},
{"x":14.12,"y":9.9},{"x":14.13,"y":7.4},{"x":14.14,"y":9.3},{"x":14.25,"y":16.1},{"x":14.28,"y":10.7},{"x":14.29,"y":10.8},{"x":14.31,"y":8.6},{"x":14.32,"y":8.9},{"x":14.33,"y":6.8},{"x":14.34,"y":8.0},{"x":14.35,"y":15.6},{"x":14.36,"y":5.3},{"x":14.37,"y":16.1},{"x":14.38,"y":16.0},{"x":14.39,"y":16.3},{"x":14.40,"y":16.8},{"x":14.41,"y":15.6},{"x":14.42,"y":8.0},{"x":14.44,"y":11.2},{"x":14.45,"y":10.8},{"x":14.46,"y":9.4},{"x":14.47,"y":9.5},{"x":14.48,"y":9.3},{"x":14.49,"y":10.4},{"x":14.50,"y":13.7},{"x":14.51,"y":13.5},{"x":14.52,"y":8.6},{"x":14.53,"y":9.1},{"x":14.54,"y":13.5},{"x":14.55,"y":13.3},{"x":14.56,"y":5.5},{"x":14.57,"y":15.0},{"x":14.58,"y":13.2},{"x":14.59,"y":13.2},{"x":14.60,"y":10.7},{"x":14.61,"y":9.5},{"x":14.63,"y":13.2},{"x":14.64,"y":9.9},{"x":14.65,"y":7.8},{"x":14.66,"y":9.7},{"x":14.67,"y":9.5},{"x":14.68,"y":8.7},{"x":14.69,"y":6.9},{"x":14.70,"y":12.8},{"x":14.71,"y":11.9},{"x":14.72,"y":9.7},{"x":14.73,"y":10.2},{"x":14.74,"y":7.1},{"x":14.75,"y":7.8},{"x":14.76,"y":2.8},{"x":14.77,"y":11.0},{"x":14.78,"y":9.7},{"x":14.79,"y":0.3},{"x":14.80,"y":7.1},{"x":14.82,"y":9.9},{"x":14.83,"y":7.1},{"x":14.84,"y":12.4},{"x":14.85,"y":10.4},{"x":14.85,"y":11.9},{"x":14.86,"y":13.9},{"x":14.87,"y":7.1},{"x":14.88,"y":9.9},{"x":14.89,"y":9.7},{"x":14.90,"y":3.8},{"x":14.91,"y":2.7}
]},
"mark":{"type":"circle","color":"#ff0000","opacity":1,"size":12},
"encoding":{
"x":{"field":"x","type":"quantitative","scale":{"domain":[0,14.92],"nice":false,"zero":false},
"axis":{"values":[0,0.5,1,1.5,2,2.5,3,3.5,4,4.5,5,5.5,6,6.5,7,7.5,8,8.5,9,9.5,10,10.5,11,11.5,12,12.5,13,13.5,14,14.5],"tickCount":200,
"labelExpr":"datum.value % 2 === 0 ? datum.label : ''","format":"d","labelFlush":false,"labelOverlap":false,"labelBound":false,
"labelFont":"Liberation Sans","labelFontSize":20,"labelColor":"black","labelPadding":14,"labelBaseline":"top",
"tickSize":-8,"tickColor":"black","tickWidth":1.5,
"domainColor":"black","domainWidth":2,
"grid":true,"gridColor":"black","gridWidth":2,"gridOpacity":{"condition":{"test":"datum.value % 1 === 0 && datum.value > 0","value":1},"value":0},
"title":"MJD - 59744","titleFont":"Liberation Sans","titleFontSize":24.5,"titleFontWeight":"normal","titleColor":"black","titleX":439,"titleY":68,"titleBaseline":"alphabetic","titleAlign":"center"}},
"y":{"field":"y","type":"quantitative","scale":{"domain":[-30,30],"nice":false,"zero":false},
"axis":{"values":[-30,-28,-26,-24,-22,-20,-18,-16,-14,-12,-10,-8,-6,-4,-2,0,2,4,6,8,10,12,14,16,18,20,22,24,26,28,30],"tickCount":200,"format":"d",
"labelExpr":"datum.value % 10 === 0 ? datum.label : ''","labelFlush":false,"labelOverlap":false,"labelBound":false,
"labelFont":"Liberation Sans","labelFontSize":20.5,"labelColor":"black",
"labelPadding":{"condition":{"test":"datum.value % 10 === 0","value":34},"value":20},
"tickSize":{"condition":{"test":"datum.value % 10 === 0","value":-27},"value":-14},"tickColor":"black","tickWidth":1.5,
"domainColor":"black","domainWidth":2,
"grid":true,"gridColor":"black","gridWidth":1.8,"gridDash":[2,3],"gridOpacity":{"condition":{"test":"datum.value % 10 === 0","value":1},"value":0},
"title":"y(UTC(NMIJ) - NMIJ-Yb1)","titleFont":"Liberation Sans","titleFontSize":24.5,"titleFontWeight":"normal","titleColor":"black","titleX":-74,"titleY":151,"titleBaseline":"alphabetic","titleAlign":"center","titleAngle":-90}}
}},
{"data":{"values":[{"t":"×10"}]},
"mark":{"type":"text","align":"left","baseline":"alphabetic","font":"Liberation Sans","fontSize":21,"color":"black","dx":-1,"dy":-4},
"encoding":{"x":{"datum":0,"type":"quantitative"},"y":{"datum":30,"type":"quantitative"},"text":{"field":"t"}}},
{"data":{"values":[{"t":"−15"}]},
"mark":{"type":"text","align":"left","baseline":"alphabetic","font":"Liberation Sans","fontSize":15,"color":"black","dx":39,"dy":-14},
"encoding":{"x":{"datum":0,"type":"quantitative"},"y":{"datum":30,"type":"quantitative"},"text":{"field":"t"}}}
]
}
